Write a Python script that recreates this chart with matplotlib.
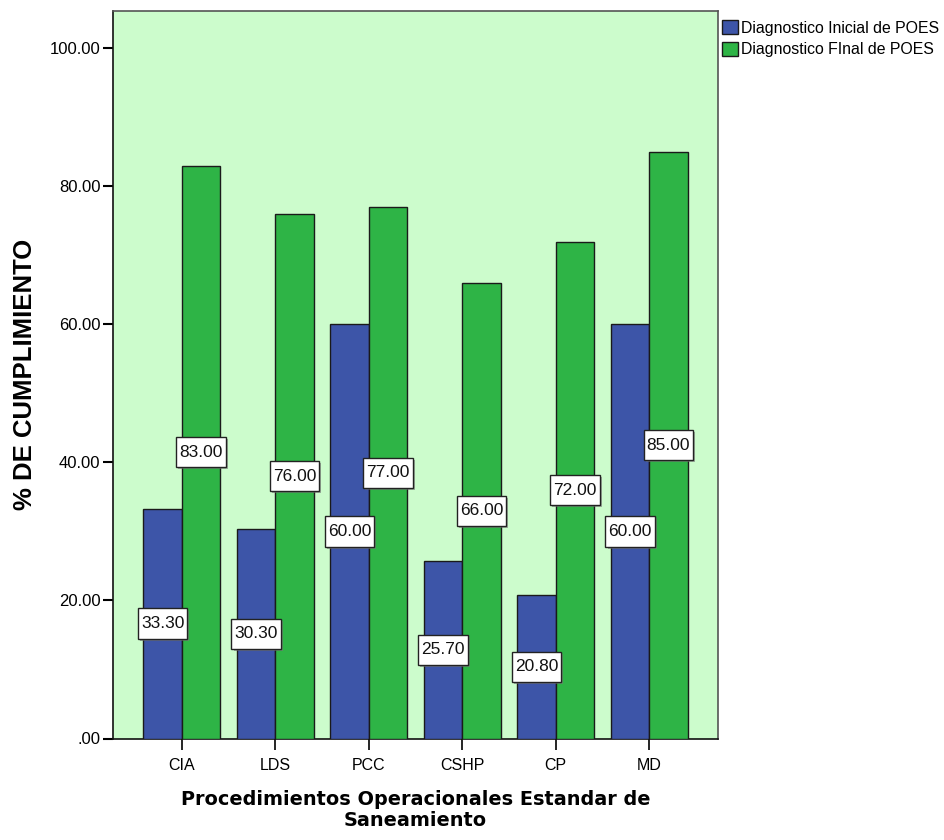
import matplotlib
matplotlib.use("Agg")
import matplotlib.pyplot as plt
import numpy as np
from matplotlib.ticker import FuncFormatter, FixedLocator
from matplotlib.patches import Rectangle
from matplotlib.path import Path
import matplotlib.patheffects as pe

categories = ["CIA", "LDS", "PCC", "CSHP", "CP", "MD"]
inicial = [33.30, 30.30, 60.00, 25.70, 20.80, 60.00]
final = [83.00, 76.00, 77.00, 66.00, 72.00, 85.00]
series_names = ["Diagnostico Inicial de POES", "Diagnostico FInal de POES"]
yticks = [0, 20, 40, 60, 80, 100]

blue = "#3D55A8"
green = "#2EB446"
bg = "#CCFCCC"

plt.rcParams['font.family'] = ['Liberation Sans', 'DejaVu Sans']

fig = plt.figure(figsize=(9.45, 8.4), dpi=100)
ax = fig.add_axes([113/945, 1 - 738.5/840, (718-113)/945, (738.5-11)/840])
ax.set_facecolor(bg)

x = np.arange(len(categories))
w = 0.41
ax.bar(x - w/2, inicial, width=w, color=blue, edgecolor="#1a1a1a", linewidth=1.0, zorder=3)
ax.bar(x + w/2, final, width=w, color=green, edgecolor="#1a1a1a", linewidth=1.0, zorder=3)

ax.set_xlim(-0.735, len(categories) - 1 + 0.735)
ax.set_ylim(0, 105.4)

ax.yaxis.set_major_locator(FixedLocator(yticks))
ax.yaxis.set_major_formatter(FuncFormatter(lambda v, p: ("%.2f" % v) if v != 0 else ".00"))
ax.set_xticks(x)
ax.set_xticklabels(categories)
ax.tick_params(axis='y', length=7, width=1.5, labelsize=12, pad=2, direction='out')
ax.tick_params(axis='x', length=8, width=1.2, labelsize=11.5, pad=6, direction='out')

for s in ax.spines.values():
    s.set_linewidth(1.2)
    s.set_color("#111111")
ax.spines['top'].set_color("#555555")
ax.spines['right'].set_color("#555555")


def label_box(x0, y0, width, height, mutation_size):
    px = 0.17 * mutation_size
    py = 0.44 * mutation_size
    verts = [(x0 - px, y0 - py), (x0 + width + px, y0 - py),
             (x0 + width + px, y0 + height + py), (x0 - px, y0 + height + py),
             (x0 - px, y0 - py)]
    codes = [Path.MOVETO, Path.LINETO, Path.LINETO, Path.LINETO, Path.CLOSEPOLY]
    return Path(verts, codes)


# value labels at half height
def label(xpos, val):
    t = ax.text(xpos, val/2, "%.2f" % val, ha='center', va='center', fontsize=12.5, color="#111111", zorder=5,
                bbox=dict(boxstyle=label_box, facecolor="white", edgecolor="#222222", linewidth=1.0))
    t.get_bbox_patch().set_path_effects([pe.SimplePatchShadow(offset=(1.5, -1.5), shadow_rgbFace="#777777", alpha=0.6),
                                         pe.Normal()])

for xi, v in zip(x, inicial):
    label(xi - w/2, v)
for xi, v in zip(x, final):
    label(xi + w/2, v)

ax.set_ylabel("% DE CUMPLIMIENTO", fontsize=18.5, fontweight='bold')
ax.yaxis.set_label_coords(-0.125, 0.5)
ax.set_xlabel("Procedimientos Operacionales Estandar de\nSaneamiento", fontsize=13.9,
              fontweight='bold', family='DejaVu Sans', linespacing=1.15, labelpad=12)

# legend
handles = [Rectangle((0, 0), 1, 1, facecolor=blue, edgecolor="#1a1a1a"),
           Rectangle((0, 0), 1, 1, facecolor=green, edgecolor="#1a1a1a")]
fig.legend(handles, series_names, loc='upper left', bbox_to_anchor=(719/945, 1 - 17/840),
           frameon=False, fontsize=11.4, handlelength=1.0, handleheight=1.0,
           handletextpad=0.2, labelspacing=0.38, borderaxespad=0, borderpad=0.2)

fig.savefig("out.png", dpi=100)
